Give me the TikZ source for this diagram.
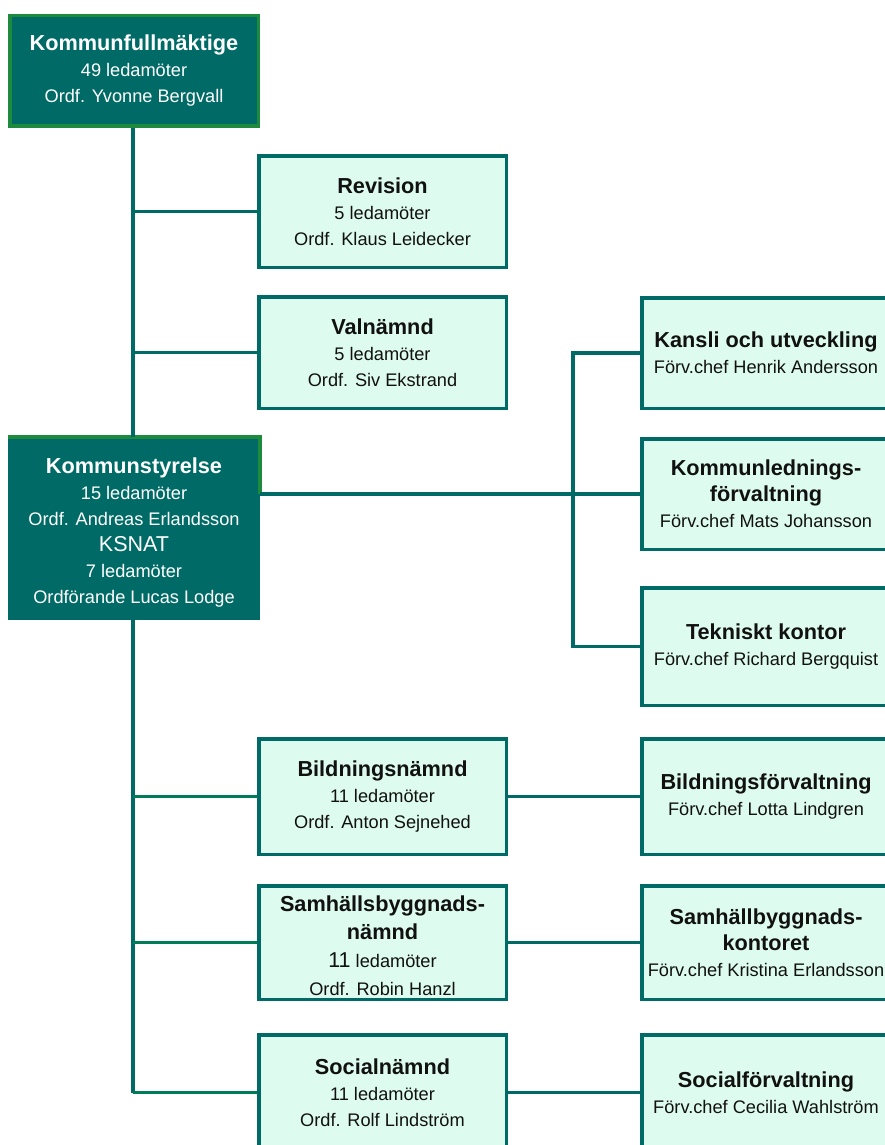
\documentclass[tikz,border=0pt]{standalone}
\usepackage{fontspec}
\setmainfont{Liberation Sans}
\definecolor{darkteal}{HTML}{006B66}
\definecolor{lightmint}{HTML}{DDFBEE}
\definecolor{kfgreen}{HTML}{1E8A3E}
\definecolor{branchgreen}{HTML}{007D58}
\definecolor{txtdark}{HTML}{111111}
\newcommand{\orgttl}[1]{{\bfseries\fontsize{21.7}{26}\selectfont #1}}
\newcommand{\orgbig}[1]{{\fontsize{21.5}{26}\selectfont #1}}
\tikzset{
  darkbox/.style={draw=kfgreen, fill=darkteal, line width=3.5pt, text=white,
    align=center, inner sep=0pt, font=\fontsize{18.2}{26}\selectfont},
  lightbox/.style={draw=darkteal, fill=lightmint, line width=3.5pt, text=txtdark,
    align=center, inner sep=0pt, font=\fontsize{18.2}{26}\selectfont},
  conn/.style={draw=darkteal, line width=3.3pt},
  branch/.style={draw=branchgreen, line width=3.3pt},
}
\begin{document}
\begin{tikzpicture}[x=1pt, y=-1pt]
\useasboundingbox (0,0) rectangle (885,1145);
\clip (0,0) rectangle (885,1145);
\fill[white] (0,0) rectangle (885,1145);

\coordinate (trunkA) at (133,0);
\coordinate (sideX) at (573,0);

% boxes
\node[darkbox, minimum width=248.5pt, minimum height=110.5pt] (kf) at (134,71)
  {\orgttl{Kommunfullmäktige}\\49 ledamöter\\Ordf. Yvonne Bergvall};
\node[lightbox, minimum width=247.5pt, minimum height=111.5pt] (rev) at (382.5,211.5)
  {\orgttl{Revision}\\5 ledamöter\\Ordf. Klaus Leidecker};
\node[lightbox, minimum width=247.5pt, minimum height=111.5pt] (val) at (382.5,352.5)
  {\orgttl{Valnämnd}\\5 ledamöter\\Ordf. Siv Ekstrand};
\node[darkbox, draw=darkteal, minimum width=248.5pt, minimum height=179.5pt] (ks) at (134,528.5)
  {\rule{0pt}{24pt}\orgttl{Kommunstyrelse}\\15 ledamöter\\Ordf. Andreas Erlandsson\\\orgbig{KSNAT}\\7 ledamöter\\Ordförande Lucas Lodge};
\node[lightbox, minimum width=248pt, minimum height=110.5pt] (kan) at (766,353)
  {\orgttl{Kansli och utveckling}\\Förv.chef Henrik Andersson};
\node[lightbox, minimum width=248pt, minimum height=110.5pt] (kl) at (766,494)
  {\orgttl{Kommunlednings-}\\\orgttl{förvaltning}\\Förv.chef Mats Johansson};
\node[lightbox, minimum width=248pt, minimum height=117.5pt] (tek) at (766,646.5)
  {\orgttl{Tekniskt kontor}\\Förv.chef Richard Bergquist};
\node[lightbox, minimum width=247.5pt, minimum height=115.5pt] (bn) at (382.5,796.5)
  {\orgttl{Bildningsnämnd}\\11 ledamöter\\Ordf. Anton Sejnehed};
\node[lightbox, minimum width=248pt, minimum height=115.5pt] (bf) at (766,796.5)
  {\orgttl{Bildningsförvaltning}\\Förv.chef Lotta Lindgren};
\node[lightbox, font=\fontsize{18.2}{28}\selectfont, minimum width=247.5pt, minimum height=113.5pt] (sn) at (382.5,942.5)
  {\rule{0pt}{22pt}\orgttl{Samhällsbyggnads-}\\\orgttl{nämnd}\\\orgbig{11} ledamöter\\Ordf. Robin Hanzl};
\node[lightbox, minimum width=248pt, minimum height=113.5pt] (sk) at (766,942.5)
  {\orgttl{Samhällbyggnads-}\\\orgttl{kontoret}\\Förv.chef Kristina Erlandsson};
\node[lightbox, minimum width=247.5pt, minimum height=115.5pt] (soc) at (382.5,1092.5)
  {\orgttl{Socialnämnd}\\11 ledamöter\\Ordf. Rolf Lindström};
\node[lightbox, minimum width=248pt, minimum height=115.5pt] (sf) at (766,1092.5)
  {\orgttl{Socialförvaltning}\\Förv.chef Cecilia Wahlström};

% green top/right edge of Kommunstyrelse
\draw[kfgreen, line width=3.5pt] (ks.north west) -- (ks.north east) -- (ks.east |- kl.west);

% connectors
\draw[conn] (kf.south -| trunkA) -- (ks.north -| trunkA);
\draw[conn] (trunkA |- rev.west) -- (rev.west);
\draw[conn] (trunkA |- val.west) -- (val.west);
\draw[conn] (ks.east |- kl.west) -- (kl.west);
\draw[conn] (kan.west) -- (sideX |- kan.west) -- (sideX |- tek.west) -- (tek.west);
\draw[conn] (ks.south -| trunkA) -- (trunkA |- soc.west);
\draw[branch] (trunkA |- bn.west) -- (bn.west);
\draw[branch] (trunkA |- sn.west) -- (sn.west);
\draw[branch] (trunkA |- soc.west) -- (soc.west);
\draw[conn] (bn.east) -- (bf.west);
\draw[conn] (sn.east) -- (sk.west);
\draw[conn] (soc.east) -- (sf.west);
\end{tikzpicture}
\end{document}
